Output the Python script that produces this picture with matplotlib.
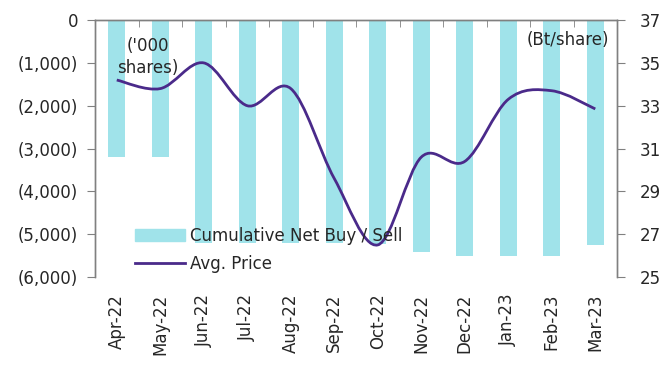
import numpy as np
import matplotlib
matplotlib.use("Agg")
import matplotlib.pyplot as plt
from matplotlib.path import Path
from matplotlib.patches import PathPatch
from matplotlib.lines import Line2D
from matplotlib.ticker import FuncFormatter

months = ['Apr-22', 'May-22', 'Jun-22', 'Jul-22', 'Aug-22', 'Sep-22',
          'Oct-22', 'Nov-22', 'Dec-22', 'Jan-23', 'Feb-23', 'Mar-23']
net_buy_sell = [-3200, -3200, -5210, -5210, -5210, -5210,
                -5230, -5420, -5500, -5500, -5500, -5260]
avg_price = [34.2, 33.8, 35.0, 33.0, 33.8, 29.6,
             26.5, 30.6, 30.4, 33.3, 33.7, 32.85]

bar_color = '#A0E3EA'
line_color = '#4A2A8A'
spine_color = '#808080'
text_color = '#262626'

plt.rcParams['font.family'] = ['DejaVu Sans']
plt.rcParams['font.size'] = 12

fig = plt.figure(figsize=(6.72, 3.65), dpi=100)
ax = fig.add_axes([0.1414, 0.241, 0.7768, 0.704])
ax2 = ax.twinx()

x = np.arange(len(months))
ax.bar(x, net_buy_sell, width=0.4, color=bar_color, zorder=1)
ax.set_xlim(-0.5, len(months) - 0.5)
ax.set_ylim(-6000, 0)
ax.set_yticks(np.arange(-6000, 1, 1000))
ax.yaxis.set_major_formatter(FuncFormatter(
    lambda v, p: '0' if v == 0 else '({:,.0f})'.format(abs(v))))

# smoothed line: cubic bezier through each monthly price
pts = np.column_stack([x, avg_price]).astype(float)
ext = np.vstack([pts[0], pts, pts[-1]])
verts = [tuple(pts[0])]
codes = [Path.MOVETO]
for i in range(len(pts) - 1):
    p0, p1, p2, p3 = ext[i], ext[i + 1], ext[i + 2], ext[i + 3]
    c1 = p1 + (p2 - p0) / 6.0
    c2 = p2 - (p3 - p1) / 6.0
    verts += [tuple(c1), tuple(c2), tuple(p2)]
    codes += [Path.CURVE4] * 3
ax2.add_patch(PathPatch(Path(verts, codes), facecolor='none',
                        edgecolor=line_color, linewidth=2.0, zorder=3))
ax2.set_ylim(25, 37)
ax2.set_yticks(np.arange(25, 38, 2))

for a in (ax, ax2):
    a.spines['bottom'].set_visible(False)
    for s in ('left', 'right', 'top'):
        a.spines[s].set_color(spine_color)
        a.spines[s].set_linewidth(1.0)

ax.set_xticks(x)
ax.set_xticklabels(months, rotation=90)
ax.set_xticks(np.arange(-0.5, len(months)), minor=True)
ax.tick_params(axis='x', which='major', bottom=True, top=False, length=0,
               pad=12, labelcolor=text_color)
ax.tick_params(axis='x', which='minor', bottom=False, top=True,
               direction='in', length=5, color=spine_color)
ax.tick_params(axis='y', length=6, color=spine_color, labelcolor=text_color,
               pad=6)
ax2.tick_params(axis='y', length=6, color=spine_color, labelcolor=text_color,
                pad=10)

handles = [plt.Rectangle((0, 0), 1, 1, color=bar_color),
           Line2D([0], [0], color=line_color, linewidth=2.0)]
ax2.legend(handles, ['Cumulative Net Buy / Sell', 'Avg. Price'],
           loc='upper left', bbox_to_anchor=(0.189, 0.401),
           bbox_transform=fig.transFigure, frameon=False, borderpad=0,
           handlelength=3.0, handletextpad=0.3, labelspacing=0.62,
           labelcolor=text_color)

fig.text(148 / 672, 1 - 57 / 365, "('000\nshares)", ha='center', va='center',
         color=text_color, linespacing=1.3)
fig.text(609 / 672, 1 - 40 / 365, '(Bt/share)', ha='right', va='center',
         color=text_color)

fig.savefig('out.png', dpi=100)
